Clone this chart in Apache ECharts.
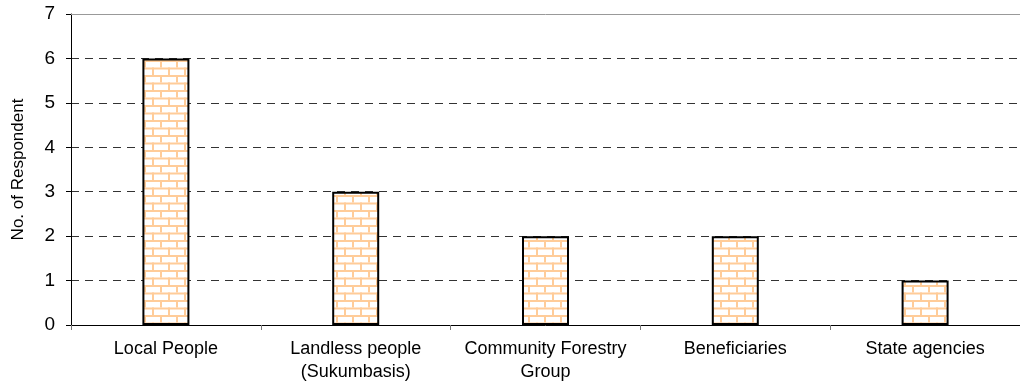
<!DOCTYPE html>
<html>
<head>
<meta charset="utf-8">
<script src="https://cdn.jsdelivr.net/npm/echarts@6/dist/echarts.min.js"></script>
<style>
  html, body { margin: 0; padding: 0; background: #fff; }
  #chart { width: 1020px; height: 391px; }
</style>
</head>
<body>
<div id="chart"></div>
<script>
const categories = [
  "Local People",
  "Landless people\n(Sukumbasis)",
  "Community Forestry\nGroup",
  "Beneficiaries",
  "State agencies",
];
const respondents = [6, 3, 2, 2, 1];
const yTicks = [0, 1, 2, 3, 4, 5, 6, 7];

// brick fill like the old office pattern
function brickPattern() {
  const c = document.createElement("canvas");
  c.width = 16;
  c.height = 15;
  const ctx = c.getContext("2d");
  ctx.fillStyle = "#fff";
  ctx.fillRect(0, 0, 16, 15);
  ctx.fillStyle = "#ffcc99";
  ctx.fillRect(0, 0, 16, 2);
  ctx.fillRect(0, 7.5, 16, 2);
  ctx.fillRect(0, 0, 2, 7.5);
  ctx.fillRect(8, 7.5, 2, 7.5);
  return c;
}

const chart = echarts.init(document.getElementById("chart"));
chart.setOption({
  animation: false,
  grid: { left: 71, right: 0, top: 14, bottom: 66 },
  xAxis: {
    type: "category",
    data: categories,
    axisLine: { lineStyle: { color: "#000", width: 1 } },
    axisTick: { show: true, interval: 0, length: 5, lineStyle: { color: "#777" } },
    axisLabel: {
      interval: 0,
      color: "#000",
      fontFamily: "Liberation Sans",
      fontSize: 18,
      lineHeight: 23,
      margin: 13,
    },
  },
  yAxis: {
    type: "value",
    min: yTicks[0],
    max: yTicks[yTicks.length - 1],
    interval: 1,
    name: "No. of Respondent",
    nameLocation: "middle",
    nameGap: 44,
    nameTextStyle: { color: "#000", fontFamily: "Liberation Sans", fontSize: 17 },
    axisLine: { show: true, lineStyle: { color: "#000", width: 1 } },
    axisTick: { show: true, length: 5, lineStyle: { color: "#000" } },
    axisLabel: { color: "#000", fontFamily: "Liberation Sans", fontSize: 19, margin: 16 },
    splitLine: { lineStyle: { color: "#333", type: [8, 6] } },
  },
  series: [
    {
      type: "bar",
      data: respondents,
      barWidth: 47,
      itemStyle: {
        color: { image: brickPattern(), repeat: "repeat" },
        borderColor: "#000",
        borderWidth: 2,
      },
      markLine: {
        silent: true,
        symbol: "none",
        label: { show: false },
        lineStyle: { color: "#999", type: "solid", width: 1 },
        data: [{ yAxis: 7 }],
      },
    },
  ],
});
</script>
</body>
</html>
